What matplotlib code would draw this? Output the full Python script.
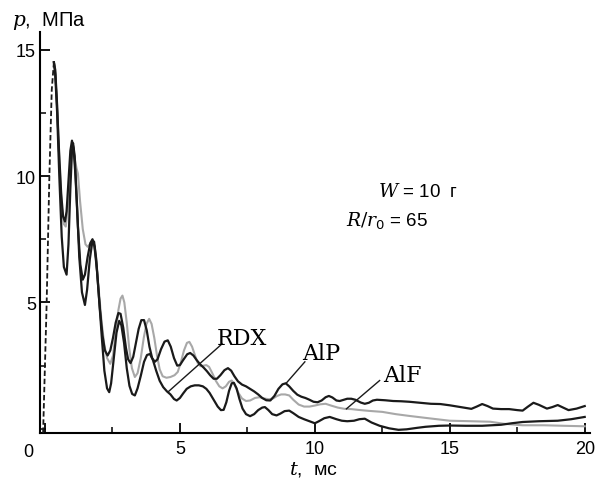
import numpy as np
import matplotlib
matplotlib.use('Agg')
from matplotlib import pyplot as plt
from matplotlib.ticker import MultipleLocator

plt.rcParams['font.family'] = ['Liberation Sans', 'DejaVu Sans']
plt.rcParams['mathtext.fontset'] = 'dejavuserif'

# initial front (dashed)
t_front = [-0.07, 0.06, 0.16, 0.25, 0.33]
p_front = [-0.16, 4.9, 9.9, 13.4, 14.5]

# AlP
t_alp = [0.33, 0.38, 0.44, 0.52, 0.6, 0.67, 0.74, 0.8, 0.87, 0.94, 1.0, 1.06,
         1.13, 1.22, 1.31, 1.4, 1.48, 1.58, 1.68, 1.76, 1.84, 1.93, 2.03, 2.13,
         2.22, 2.32, 2.42, 2.52, 2.62, 2.72, 2.8, 2.9, 3.0, 3.08, 3.17, 3.27,
         3.37, 3.47, 3.57, 3.67, 3.77, 3.87, 3.97, 4.07, 4.17, 4.3, 4.43, 4.55,
         4.66, 4.78, 4.9, 5.0, 5.12, 5.27, 5.38, 5.5, 5.62, 5.75, 5.88, 6.0,
         6.12, 6.25, 6.37, 6.5, 6.65, 6.78, 6.9, 7.02, 7.15, 7.3, 7.45, 7.6,
         7.75, 7.9, 8.05, 8.2, 8.35, 8.5, 8.65, 8.8, 8.92, 9.05, 9.2, 9.35,
         9.5, 9.65, 9.8, 9.95, 10.1, 10.25, 10.4, 10.52, 10.65, 10.8, 10.92,
         11.05, 11.2, 11.35, 11.5, 11.7, 11.85, 12.0, 12.15, 12.3, 12.6, 12.9,
         13.2, 13.5, 13.9, 14.3, 14.65, 15.0, 15.4, 15.8, 16.0, 16.2, 16.4,
         16.6, 16.9, 17.2, 17.5, 17.7, 17.9, 18.1, 18.3, 18.6, 18.8, 19.0,
         19.2, 19.4, 19.7, 20.0]
p_alp = [14.5, 14.2, 13.0, 11.0, 9.3, 8.4, 8.2, 8.6, 9.8, 11.0, 11.4, 11.1,
         10.0, 8.0, 6.5, 5.9, 6.1, 6.8, 7.35, 7.5, 7.2, 6.2, 4.8, 3.7,
         3.1, 2.9, 3.1, 3.6, 4.2, 4.58, 4.55, 4.0, 3.2, 2.75, 2.6, 2.85,
         3.4, 3.95, 4.3, 4.3, 3.9, 3.25, 2.8, 2.65, 2.75, 3.15, 3.45, 3.5,
         3.25, 2.8, 2.5, 2.52, 2.72, 2.95, 3.0, 2.9, 2.72, 2.55, 2.42, 2.28,
         2.12, 1.98, 1.98, 2.12, 2.32, 2.4, 2.3, 2.08, 1.88, 1.75, 1.68, 1.58,
         1.48, 1.36, 1.22, 1.13, 1.12, 1.3, 1.58, 1.76, 1.8, 1.68, 1.5, 1.35,
         1.27, 1.22, 1.15, 1.07, 1.05, 1.12, 1.25, 1.3, 1.24, 1.12, 1.1,
         1.14, 1.19, 1.19, 1.15, 1.04, 0.99, 1.03, 1.12, 1.15, 1.13, 1.1,
         1.09, 1.07, 1.03, 0.99, 0.98, 0.93, 0.86, 0.79, 0.88, 0.98, 0.9,
         0.8, 0.78, 0.78, 0.74, 0.72, 0.88, 1.03, 0.95, 0.8, 0.86, 0.94,
         0.84, 0.74, 0.8, 0.9]

# RDX
t_rdx = [0.33, 0.38, 0.45, 0.53, 0.62, 0.7, 0.8, 0.87, 0.94, 1.0, 1.04, 1.1,
         1.18, 1.27, 1.37, 1.48, 1.56, 1.66, 1.76, 1.82, 1.9, 2.0, 2.1, 2.2,
         2.3, 2.38, 2.45, 2.55, 2.65, 2.75, 2.83, 2.93, 3.03, 3.13, 3.23, 3.33,
         3.43, 3.55, 3.67, 3.78, 3.89, 4.0, 4.12, 4.25, 4.38, 4.52, 4.65, 4.78,
         4.88, 5.0, 5.12, 5.25, 5.4, 5.55, 5.7, 5.85, 5.98, 6.1, 6.25, 6.4,
         6.52, 6.62, 6.72, 6.82, 6.92, 7.0, 7.1, 7.2, 7.32, 7.45, 7.6, 7.75,
         7.9, 8.05, 8.15, 8.28, 8.42, 8.58, 8.72, 8.88, 9.05, 9.2, 9.4, 9.6,
         9.8, 10.0, 10.15, 10.35, 10.55, 10.8, 11.0, 11.2, 11.45, 11.65, 11.85,
         12.1, 12.4, 12.75, 13.1, 13.4, 13.8, 14.1, 14.6, 15.0, 15.6, 16.2,
         16.9, 17.3, 17.7, 18.3, 19.0, 19.5, 20.0]
p_rdx = [14.5, 14.0, 12.5, 10.0, 7.6, 6.4, 6.1, 7.3, 9.5, 11.0, 11.3, 10.8,
         9.0, 6.8, 5.4, 4.9, 5.5, 6.7, 7.45, 7.4, 6.7, 5.2, 3.7, 2.3,
         1.6, 1.45, 1.8, 2.8, 3.8, 4.27, 4.1, 3.4, 2.4, 1.7, 1.38, 1.32,
         1.6, 2.1, 2.65, 2.92, 2.96, 2.72, 2.3, 1.9, 1.65, 1.48, 1.36, 1.18,
         1.12, 1.22, 1.4, 1.58, 1.68, 1.72, 1.72, 1.68, 1.58, 1.42, 1.15, 0.88,
         0.74, 0.75, 1.05, 1.5, 1.8, 1.82, 1.6, 1.2, 0.8, 0.58, 0.5, 0.58,
         0.74, 0.84, 0.86, 0.74, 0.58, 0.53, 0.6, 0.7, 0.72, 0.62, 0.47, 0.38,
         0.3, 0.22, 0.3, 0.42, 0.47, 0.38, 0.32, 0.3, 0.32, 0.38, 0.4,
         0.25, 0.12, 0.02, -0.04, -0.02, 0.04, 0.08, 0.12, 0.13, 0.12, 0.12,
         0.16, 0.22, 0.27, 0.3, 0.32, 0.38, 0.47]

# AlF
t_alf = [0.33, 0.38, 0.45, 0.53, 0.62, 0.7, 0.77, 0.84, 0.92, 0.99, 1.04, 1.1,
         1.17, 1.22, 1.3, 1.4, 1.5, 1.58, 1.66, 1.74, 1.82, 1.9, 2.0, 2.1,
         2.2, 2.3, 2.42, 2.52, 2.62, 2.72, 2.8, 2.87, 2.94, 3.03, 3.12, 3.22,
         3.33, 3.43, 3.55, 3.66, 3.76, 3.86, 3.95, 4.05, 4.15, 4.25, 4.36, 4.5,
         4.65, 4.8, 4.92, 5.04, 5.15, 5.26, 5.35, 5.45, 5.56, 5.66, 5.76, 5.88,
         5.98, 6.08, 6.2, 6.33, 6.46, 6.58, 6.7, 6.82, 6.92, 7.02, 7.15, 7.3,
         7.45, 7.6, 7.78, 7.95, 8.12, 8.3, 8.45, 8.6, 8.75, 8.9, 9.05, 9.2,
         9.4, 9.6, 9.8, 10.0, 10.2, 10.4, 10.6, 10.85, 11.1, 11.35, 11.6, 12.0,
         12.5, 13.0, 13.5, 14.2, 15.0, 15.8, 16.5, 17.0, 17.7, 18.5, 19.2, 20.0]
p_alf = [14.5, 14.1, 12.8, 10.6, 8.8, 8.1, 8.0, 8.7, 10.0, 10.9, 11.0, 10.7,
         10.3, 10.1, 9.0, 7.9, 7.3, 7.2, 7.3, 7.4, 7.2, 6.6, 5.4, 4.2,
         3.3, 2.8, 2.57, 2.9, 3.8, 4.7, 5.15, 5.27, 5.0, 4.2, 3.2, 2.4,
         2.05, 2.2, 2.8, 3.6, 4.15, 4.35, 4.15, 3.6, 2.9, 2.35, 2.08, 2.02,
         2.05, 2.12, 2.25, 2.65, 3.1, 3.4, 3.44, 3.25, 2.9, 2.6, 2.48, 2.5,
         2.52, 2.45, 2.2, 1.9, 1.68, 1.6, 1.68, 1.86, 1.91, 1.75, 1.45, 1.2,
         1.1, 1.12, 1.22, 1.25, 1.2, 1.17, 1.2, 1.3, 1.36, 1.36, 1.32, 1.15,
         0.96, 0.88, 0.88, 0.92, 0.97, 0.99, 0.92, 0.84, 0.79, 0.78, 0.75, 0.71,
         0.67, 0.58, 0.51, 0.42, 0.32, 0.3, 0.28, 0.2, 0.14, 0.14, 0.12, 0.1]

fig = plt.figure(figsize=(5.97, 4.81), dpi=100)
ax = fig.add_axes([0.067, 0.098, 0.921, 0.833])

ax.plot(t_alf, p_alf, color='#a8a8a8', lw=1.5, zorder=2)
ax.plot(t_alp, p_alp, color='#1a1a1a', lw=1.6, zorder=3)
ax.plot(t_rdx, p_rdx, color='#1a1a1a', lw=1.6, zorder=3)
ax.plot(t_front, p_front, color='#1a1a1a', lw=1.3, ls=(0, (3, 1.5)), zorder=3)

ax.set_xlim(-0.185, 20.19)
ax.set_ylim(-0.16, 15.69)

for s in ['top', 'right']:
    ax.spines[s].set_visible(False)
for s in ['left', 'bottom']:
    ax.spines[s].set_linewidth(1.5)

ax.set_xticks([0, 5, 10, 15, 20], ['', '5', '10', '15', '20'])
ax.set_yticks([5, 10, 15], ['5', '10', '15'])
ax.xaxis.set_minor_locator(MultipleLocator(2.5))
ax.yaxis.set_minor_locator(MultipleLocator(2.5))
ax.tick_params(which='major', direction='in', length=7, width=1.3,
               labelsize=13, pad=5)
ax.tick_params(which='minor', direction='in', length=4, width=1.1)
ax.tick_params(axis='y', pad=3)

ax.text(-0.63, -0.55, '0', fontsize=13, ha='center', va='top')

fig.text(0.02, 0.945, r'$p$,  МПа', fontsize=14.5)
fig.text(0.484, 0.013, r'$t$,  мс', fontsize=14)

ax.text(12.33, 9.2, r'$W$ = 10  г', fontsize=13.5)
ax.text(11.15, 8.06, r'$R/r_{\mathsf{0}}$ = 65', fontsize=13.5)

serif = ['DejaVu Serif']
ax.text(6.37, 3.36, 'RDX', fontsize=16, family=serif)
ax.text(9.52, 2.77, 'AlP', fontsize=16, family=serif)
ax.text(12.52, 1.9, 'AlF', fontsize=16, family=serif)

ax.plot([6.56, 4.56], [3.36, 1.46], color='#1a1a1a', lw=1.0)
ax.plot([9.63, 8.95], [2.65, 1.82], color='#1a1a1a', lw=1.0)
ax.plot([12.4, 11.17], [1.91, 0.79], color='#1a1a1a', lw=1.0)

fig.savefig('out.png', dpi=100)
plt.close(fig)
